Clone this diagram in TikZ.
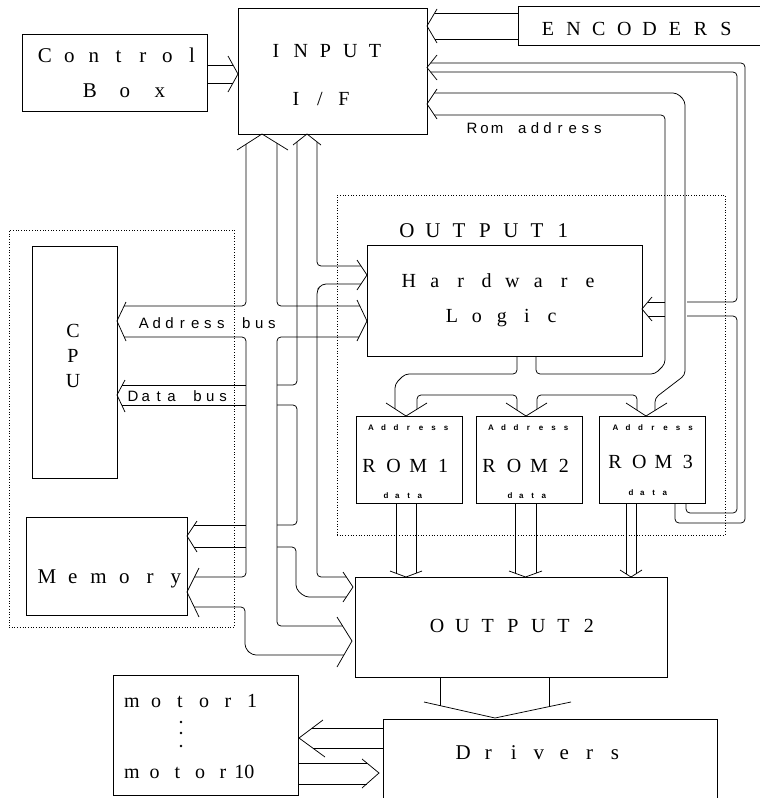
\documentclass[tikz,border=0pt]{standalone}
\usepackage{fontspec}
\setmainfont{Liberation Serif}
\setsansfont{Liberation Sans}
\newlength\pitchw
\makeatletter
\newcommand\pitched[2]{\setlength\pitchw{#1}\pitch@a#2\relax}
\def\pitch@a#1{\ifx\relax#1\else\makebox[\pitchw][c]{#1}\expandafter\pitch@a\fi}
\makeatother
\tikzset{
  box/.style={draw, line width=0.9pt, inner sep=0pt, outer sep=0pt, anchor=north west},
  openbox/.style={inner sep=0pt, outer sep=0pt, anchor=north west},
  frame/.style={draw, dotted, line width=0.7pt, inner sep=0pt, outer sep=0pt, anchor=north west},
  ln/.style={line width=0.75pt, rounded corners=4pt},
  chev/.style={line width=0.75pt},
  lbl/.style={inner sep=0pt, outer sep=0pt, anchor=base, font=\fontsize{20}{24}\selectfont},
  biglbl/.style={inner sep=0pt, outer sep=0pt, anchor=base, font=\fontsize{21}{25}\selectfont},
  slbl/.style={inner sep=0pt, outer sep=0pt, anchor=base west, font=\sffamily\fontsize{15}{18}\selectfont},
  tinylbl/.style={inner sep=0pt, outer sep=0pt, anchor=base, font=\sffamily\bfseries\fontsize{8}{10}\selectfont},
}
\begin{document}
\begin{tikzpicture}[x=1pt,y=-1pt]
\useasboundingbox (0,0) rectangle (760,798);

% ---------- frames ----------
\node[frame, minimum width=388pt, minimum height=340pt] (out1frame) at (337,195) {};
\node[frame, minimum width=225pt, minimum height=397pt] (cpuframe) at (9,230) {};

% ---------- boxes ----------
\node[box, minimum width=185pt, minimum height=77pt] (ctrl) at (22,34) {};
\node[box, minimum width=189pt, minimum height=126pt] (inp) at (238,8) {};
\node[openbox, minimum width=245pt, minimum height=39pt] (enc) at (518,6) {};
\draw[line width=0.9pt] (enc.north east) -- (enc.north west) -- (enc.south west) -- (enc.south east);
\node[box, minimum width=275pt, minimum height=111pt] (hl) at (367,245) {};
\node[box, minimum width=106pt, minimum height=87pt] (rom1) at (356,416) {};
\node[box, minimum width=106pt, minimum height=87pt] (rom2) at (476,416) {};
\node[box, minimum width=106pt, minimum height=87pt] (rom3) at (599,416) {};
\node[box, minimum width=85pt, minimum height=232pt] (cpu) at (32,246) {};
\node[box, minimum width=161pt, minimum height=98pt] (mem) at (26,517) {};
\node[box, minimum width=312pt, minimum height=100pt] (out2) at (355,577) {};
\node[openbox, minimum width=334pt, minimum height=85pt] (drv) at (383,719) {};
\draw[line width=0.9pt] (drv.south west) -- (drv.north west) -- (drv.north east) -- (drv.south east);
\node[box, minimum width=185pt, minimum height=120pt] (motor) at (113,675) {};

% ---------- labels ----------
\node[biglbl] (tctrl) at (118.5,62) {\pitched{24.5pt}{Control}};
\node[biglbl] (tbox) at (125,97) {\pitched{35pt}{Box}};
\node[lbl] (tinp1) at (325.5,57) {\pitched{24.75pt}{INPUT}};
\node[lbl] (tinp2) at (320,105) {\pitched{24pt}{I/F}};
\node[lbl] (tenc) at (637,35) {\pitched{25.4pt}{ENCODERS}};
\node[slbl] (trom) at (465.7,133) {\pitched{12.6pt}{Rom~address}};
\node[biglbl] (tout1) at (485,237) {\pitched{26pt}{OUTPUT1}};
\node[lbl] (thl1) at (499.5,287) {\pitched{25.9pt}{Hardware}};
\node[lbl] (thl2) at (502,322) {\pitched{25pt}{Logic}};
\node[tinylbl] (ta1) at (408.5,430) {\pitched{12.5pt}{Address}};
\node[tinylbl] (ta2) at (528.5,430) {\pitched{12.5pt}{Address}};
\node[tinylbl] (ta3) at (653,430) {\pitched{12.5pt}{Address}};
\node[lbl] (tr1) at (406,472) {\pitched{24.7pt}{ROM1}};
\node[lbl] (tr2) at (526.5,472) {\pitched{25pt}{ROM2}};
\node[lbl] (tr3) at (651.5,468) {\pitched{24.3pt}{ROM3}};
\node[tinylbl] (td1) at (403,498) {\pitched{11.3pt}{data}};
\node[tinylbl] (td2) at (527,498) {\pitched{11.3pt}{data}};
\node[tinylbl] (td3) at (648,495) {\pitched{11.3pt}{data}};
\node[lbl] (tc) at (73,337) {C};
\node[lbl] (tp) at (73,362) {P};
\node[lbl] (tu) at (73,387) {U};
\node[slbl] (tab) at (137.6,328) {\pitched{12.8pt}{Address~bus}};
\node[slbl] (tdb) at (126.5,401) {\pitched{12.9pt}{Data~bus}};
\node[biglbl] (tmem) at (111.5,583) {\pitched{25.8pt}{Memory}};
\node[lbl] (tout2) at (513,632) {\pitched{25.3pt}{OUTPUT2}};
\node[biglbl] (tdrv) at (539,759) {\pitched{25.3pt}{Drivers}};
\node[lbl, anchor=base west] (tm1) at (120,707) {\pitched{24pt}{motor1}};
\node[lbl, anchor=base west] (tm10) at (120.6,778) {\pitched{22.75pt}{motor}10};
\fill (181,722) circle (1.3pt);
\fill (181,733) circle (1.3pt);
\fill (181,746) circle (1.3pt);

% ---------- Control Box -> INPUT ----------
\draw[ln] (207,65) -- (233,65);
\draw[ln] (207,83) -- (233,83);
\draw[chev] (228,56) -- (238,74) -- (228,92);

% ---------- ENCODERS -> INPUT ----------
\draw[ln] (518,13) -- (434.6,13);
\draw[ln] (518,39) -- (434.6,39);
\draw[chev] (437,9) -- (427,26) -- (437,43);

% ---------- ROM3 data feedback -> INPUT and Hardware Logic ----------
\draw[chev] (437,55) -- (427,67.5) -- (437,80);
\draw[ln] (430.6,63) -- (745,63) -- (745,523) -- (675,523) -- (675,503);
\draw[ln] (430.6,72) -- (737,72) -- (737,302) -- (687,302);
\draw[ln] (687,316) -- (737,316) -- (737,513) -- (686,513) -- (686,503);
\draw[ln] (647.8,302) -- (665,302);
\draw[ln] (647.8,316) -- (665,316);
\draw[chev] (652,297) -- (642,309) -- (652,321);

% ---------- Rom address bus ----------
\draw[chev] (437,89) -- (427,104) -- (437,119);
\draw[ln] (434.3,93) -- (677,93) -- (685,101) -- (685,375) -- (655,398) -- (655,410.4);
\draw[ln] (434.3,115) -- (665,115) -- (665,364) -- (655,374) -- (536,374) -- (536,356);
\draw[ln] (517,356) -- (517,374) -- (405,374) -- (395,384) -- (395,408.9);
\draw[ln] (417,409.2) -- (417,395) -- (517,395) -- (517,410);
\draw[ln] (537,409.2) -- (537,395) -- (637,395) -- (637,410.2);
\draw[chev] (386,403) -- (406,416) -- (427,403);
\draw[chev] (506,403) -- (526,416) -- (547,403);
\draw[chev] (626,403) -- (646,416) -- (667,403);

% ---------- ROM data -> OUTPUT2 ----------
\draw[ln] (396,503) -- (396,573.3);
\draw[ln] (416,503) -- (416,573.3);
\draw[chev] (390,571) -- (406,577) -- (422,571);
\draw[ln] (515,503) -- (515,573.2);
\draw[ln] (536,503) -- (536,573.2);
\draw[chev] (509,571) -- (525.5,577) -- (542,571);
\draw[ln] (626,503) -- (626,573.8);
\draw[ln] (636,503) -- (636,573.8);
\draw[chev] (620,570) -- (631,577) -- (642,570);

% ---------- central buses ----------
\draw[chev] (237,150) -- (262,134) -- (288,150);
\draw[chev] (293,145) -- (307,134) -- (321,145);
\draw[chev] (126,302) -- (117,321) -- (126,341);
\draw[chev] (125,380) -- (117,395) -- (125,412);
\draw[chev] (357,260) -- (367,275) -- (357,290);
\draw[chev] (357,300) -- (367,321) -- (357,341);
\draw[chev] (197,521) -- (187,536) -- (197,552);
\draw[chev] (199,568) -- (187,592) -- (199,617);
\draw[chev] (343,572) -- (353,587) -- (343,602);
\draw[chev] (337,617) -- (352,641) -- (337,667);

\draw[ln] (246,144.2) -- (246,306) -- (124.1,306);
\draw[ln] (277,143.2) -- (277,306) -- (359.9,306);
\draw[ln] (124.2,337) -- (246,337) -- (246,577) -- (194.5,577);
\draw[ln] (359,337) -- (277,337) -- (277,626) -- (342.6,626);
\draw[ln] (297,141.9) -- (297,385) -- (277,385);
\draw[ln] (317,141.9) -- (317,266) -- (361,266);
\draw[ln] (361,284) -- (322,284) -- (317,290) -- (317,577) -- (346.3,577);
\draw[ln] (277,405) -- (297,405) -- (297,525) -- (277,525);
\draw[ln] (277,547) -- (296,547) -- (296,589) -- (305,597) -- (346.3,597);
\draw[ln] (122.3,385) -- (246,385);
\draw[ln] (121.7,405) -- (246,405);
\draw[ln] (193.7,525) -- (246,525);
\draw[ln] (193.9,547) -- (246,547);
\draw[ln] (194.2,607) -- (245,607) -- (245,648) -- (252,655) -- (343.9,655);

% ---------- OUTPUT2 -> Drivers ----------
\draw[ln] (440,677) -- (440,705.6);
\draw[ln] (549,677) -- (549,706.6);
\draw[chev] (424,702) -- (495,718) -- (571,702);

% ---------- Drivers <-> motors ----------
\draw[ln] (383,728) -- (312.3,728);
\draw[ln] (383,748) -- (312.7,748);
\draw[chev] (323,720) -- (299,738) -- (325,757);
\draw[ln] (298,763) -- (366.9,763);
\draw[ln] (298,784) -- (366.5,784);
\draw[chev] (362,759) -- (379,773) -- (362,788);
\end{tikzpicture}
\end{document}
